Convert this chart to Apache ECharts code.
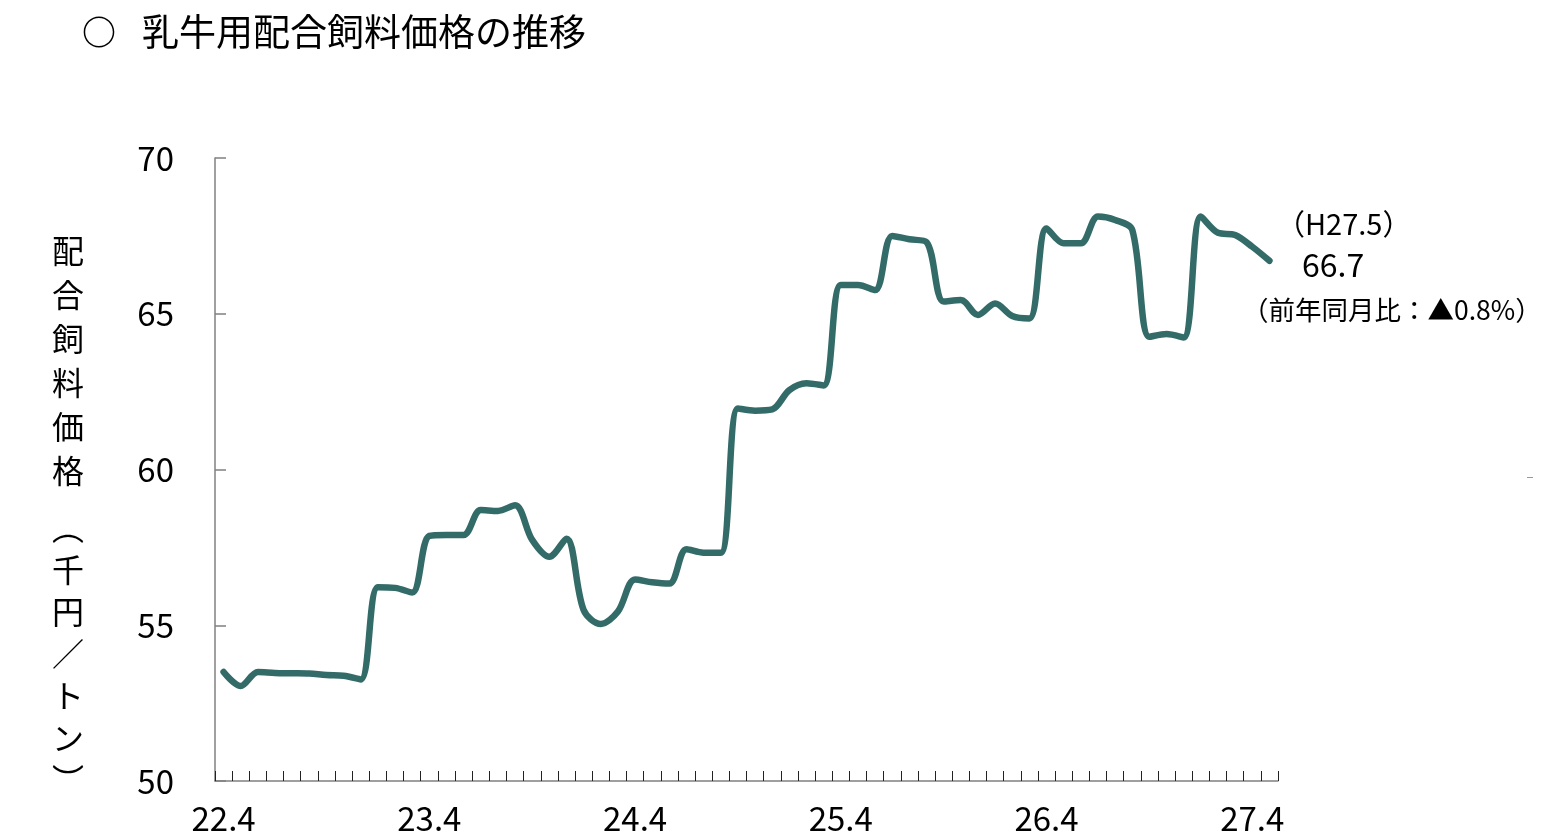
<!DOCTYPE html>
<html>
<head>
<meta charset="utf-8">
<title>乳牛用配合飼料価格の推移</title>
<script src="https://cdn.jsdelivr.net/npm/echarts@6/dist/echarts.min.js"></script>
<style>
  html, body { margin: 0; padding: 0; background: #fff; }
  #main { width: 1559px; height: 839px; }
</style>
</head>
<body>
<div id="main"></div>
<script>
var fontFamily = 'Noto Sans CJK JP'
var lineColor = '#336b69'

// 月 (H22.4 - H27.5)
var months = [
  '22.4', '22.5', '22.6', '22.7', '22.8', '22.9', '22.10', '22.11', '22.12', '23.1', '23.2', '23.3',
  '23.4', '23.5', '23.6', '23.7', '23.8', '23.9', '23.10', '23.11', '23.12', '24.1', '24.2', '24.3',
  '24.4', '24.5', '24.6', '24.7', '24.8', '24.9', '24.10', '24.11', '24.12', '25.1', '25.2', '25.3',
  '25.4', '25.5', '25.6', '25.7', '25.8', '25.9', '25.10', '25.11', '25.12', '26.1', '26.2', '26.3',
  '26.4', '26.5', '26.6', '26.7', '26.8', '26.9', '26.10', '26.11', '26.12', '27.1', '27.2', '27.3',
  '27.4', '27.5'
]

// 配合飼料価格（千円／トン）
var prices = [
  53.5, 53.05, 53.5, 53.47, 53.46, 53.45, 53.4, 53.38, 53.26, 56.22, 56.2, 56.05,
  57.87, 57.9, 57.9, 58.7, 58.67, 58.85, 57.74, 57.2, 57.78, 55.49, 55.04, 55.44,
  56.47, 56.38, 56.34, 57.44, 57.33, 57.33, 61.96, 61.89, 61.93, 62.55, 62.77, 62.7,
  65.92, 65.92, 65.76, 67.5, 67.39, 67.3, 65.39, 65.44, 64.96, 65.33, 64.93, 64.85,
  67.74, 67.26, 67.26, 68.12, 68.01, 67.69, 64.26, 64.35, 64.24, 68.12, 67.6, 67.53,
  67.15, 66.7
]

var yTicks = [50, 55, 60, 65, 70]

var option = {
  animation: false,
  backgroundColor: '#fff',
  textStyle: { fontFamily: fontFamily },
  grid: {
    left: 215,
    right: 281,
    top: 158,
    bottom: 58,
    containLabel: false
  },
  xAxis: {
    type: 'category',
    boundaryGap: true,
    data: months,
    axisLine: {
      show: true,
      lineStyle: { color: '#808080', width: 1.5 }
    },
    axisTick: {
      show: true,
      inside: true,
      length: 10,
      interval: 0,
      lineStyle: { color: '#222', width: 1 }
    },
    axisLabel: {
      interval: 11,
      margin: 21,
      fontSize: 33,
      color: '#000',
      fontFamily: fontFamily
    },
    splitLine: { show: false }
  },
  yAxis: {
    type: 'value',
    min: yTicks[0],
    max: yTicks[yTicks.length - 1],
    interval: 5,
    axisLine: {
      show: true,
      lineStyle: { color: '#808080', width: 1.5 }
    },
    axisTick: {
      show: true,
      inside: true,
      length: 11,
      lineStyle: { color: '#808080', width: 1.5 }
    },
    axisLabel: {
      margin: 41,
      fontSize: 33,
      color: '#000',
      fontFamily: fontFamily
    },
    splitLine: { show: false }
  },
  series: [
    {
      name: '配合飼料価格',
      type: 'line',
      data: prices,
      smooth: 0.33,
      symbol: 'none',
      lineStyle: {
        color: lineColor,
        width: 6.5,
        cap: 'round',
        join: 'round'
      }
    }
  ],
  graphic: [
    // タイトル
    {
      type: 'text',
      left: 82,
      top: 15,
      style: { text: '○', fontSize: 34, fontWeight: 'bold', fontFamily: fontFamily, fill: '#000' }
    },
    {
      type: 'text',
      left: 142,
      top: 13,
      style: { text: '乳牛用配合飼料価格の推移', fontSize: 37, fontFamily: fontFamily, fill: '#000' }
    },
    // 縦書きの軸名
    {
      type: 'text',
      x: 68,
      y: 229,
      style: {
        text: '配\n合\n飼\n料\n価\n格',
        fontSize: 32,
        lineHeight: 44,
        align: 'center',
        verticalAlign: 'top',
        fontFamily: fontFamily,
        fill: '#000'
      }
    },
    {
      type: 'text',
      x: 68,
      y: 507,
      style: {
        text: '︵\n千\n円\n／\nト\nン\n︶',
        fontSize: 32,
        lineHeight: 42,
        align: 'center',
        verticalAlign: 'top',
        fontFamily: fontFamily,
        fill: '#000'
      }
    },
    // 最新値の注記
    {
      type: 'text',
      x: 1276,
      y: 224,
      style: {
        text: '（H27.5）',
        fontSize: 29,
        align: 'left',
        verticalAlign: 'middle',
        fontFamily: fontFamily,
        fill: '#000'
      }
    },
    {
      type: 'text',
      x: 1302,
      y: 265,
      style: {
        text: '66.7',
        fontSize: 32,
        align: 'left',
        verticalAlign: 'middle',
        fontFamily: fontFamily,
        fill: '#000'
      }
    },
    {
      type: 'text',
      x: 1242,
      y: 310,
      style: {
        text: '（前年同月比：▲0.8%）',
        fontSize: 26.5,
        align: 'left',
        verticalAlign: 'middle',
        fontFamily: fontFamily,
        fill: '#000'
      }
    },
    {
      type: 'line',
      shape: { x1: 1527, y1: 477.5, x2: 1533, y2: 477.5 },
      style: { stroke: '#999', lineWidth: 1 }
    }
  ]
}

var chart = echarts.init(document.getElementById('main'), null, { renderer: 'canvas' })
chart.setOption(option)
window.addEventListener('resize', function () { chart.resize() })
</script>
</body>
</html>
